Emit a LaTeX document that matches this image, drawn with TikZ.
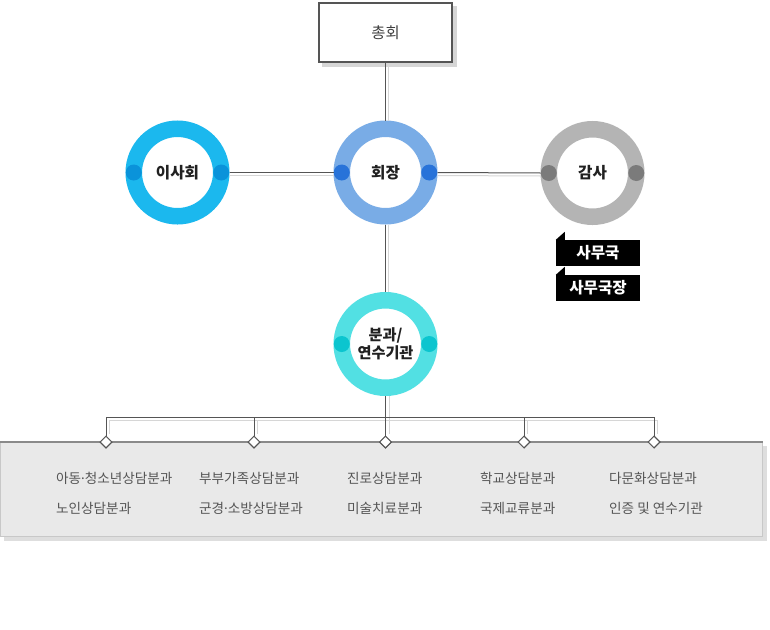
\documentclass[tikz,border=0pt]{standalone}
\usepackage{fontspec}
\setmainfont{Noto Sans CJK KR}
\newfontfamily\latinf{Noto Sans}
\newcommand{\mdot}{{\latinf ·}}
\usetikzlibrary{shapes.geometric}
\definecolor{cA}{HTML}{1BB8EE}
\definecolor{dA}{HTML}{0A93DA}
\definecolor{cB}{HTML}{79ACE6}
\definecolor{dB}{HTML}{2873D9}
\definecolor{cC}{HTML}{B4B4B4}
\definecolor{dC}{HTML}{7B7B7B}
\definecolor{cD}{HTML}{52E0E3}
\definecolor{dD}{HTML}{0BC5CF}
\definecolor{linec}{HTML}{555555}
\definecolor{shadc}{HTML}{D6D6D6}
\definecolor{panelfill}{HTML}{E9E9E9}
\definecolor{panelline}{HTML}{C8C8C8}
\definecolor{paneltop}{HTML}{8A8A8A}
\definecolor{paneltext}{HTML}{555555}
\begin{document}
\begin{tikzpicture}[x=1pt,y=-1pt,
  ring/.style={circle, draw=#1, line width=16.5pt, minimum size=87.5pt, inner sep=0pt,
    fill=white, text=black!87, font=\fontsize{15.6}{19}\selectfont\bfseries},
  conn/.style={draw=linec, line width=1pt},
  shline/.style={draw=shadc, line width=1pt},
  dia/.style={diamond, aspect=1, minimum size=12pt, inner sep=0pt, draw=linec, fill=white, line width=1pt},
  tag/.style={fill=black, text=white, minimum width=84pt, minimum height=26pt, inner sep=0pt,
    font=\fontsize{15.6}{18}\selectfont\bfseries},
  item/.style={anchor=west, inner sep=0pt, text=paneltext, font=\fontsize{13.6}{16}\selectfont},
  topbox/.style={draw=linec, line width=2pt, fill=white, minimum width=133pt, minimum height=59pt,
    inner sep=0pt, text=black!75, font=\fontsize{15.4}{18}\selectfont}]
\useasboundingbox[fill=white] (0,0) rectangle (770,629);

% top box
\fill[shadc] (322,6) rectangle (457,67);
\node[topbox] (zh) at (385.5,32.5) {총회};

% circles
\node[ring=cA] (isa) at (177.5,172.5) {이사회};
\node[ring=cB] (hj) at (385.5,172.5) {회장};
\node[ring=cC] (gs) at (592.5,173) {감사};
\node[ring=cD, align=center, font=\fontsize{15.2}{18.5}\selectfont\bfseries] (bg) at (385.5,344) {분과/\\연수기관};

\foreach \n/\c in {isa/dA, hj/dB, gs/dC, bg/dD}{
  \fill[\c] (\n.center) ++(-43.75,0) circle[radius=8pt];
  \fill[\c] (\n.center) ++(43.75,0) circle[radius=8pt];
}

% black tags
\node[tag] (sm) at (598,253) {사무국};
\fill (sm.north west) -- ++(9,-8) -- ++(0,8) -- cycle;
\node[tag] (smj) at (598,288) {사무국장};
\fill (smj.north west) -- ++(9,-8) -- ++(0,8) -- cycle;

% panel
\fill[shadc!80] (4,446) rectangle (767,541);
\draw[draw=panelline, fill=panelfill] (0.5,442) rectangle (762.5,536.5);
\draw[paneltop, line width=2pt] (0,442) -- (763,442);

% diamonds
\node[dia] (d1) at (106,442) {};
\node[dia] (d2) at (254,442) {};
\node[dia] (d3) at (385.5,442) {};
\node[dia] (d4) at (524,442) {};
\node[dia] (d5) at (654,442) {};
\coordinate (bus) at (385.5,417);

% connector shadows
\draw[shline] ([shift={(3,0)}]zh.south) -- ([shift={(3,0)}]hj.north);
\draw[shline] ([shift={(0,3)}]isa.east) -- ([shift={(0,3)}]hj.west);
\draw[shline] ([shift={(0,3)}]hj.east) -- ([shift={(0,3)}]gs.west);
\draw[shline] ([shift={(3,0)}]hj.south) -- ([shift={(3,0)}]bg.north);
\draw[shline] ([shift={(3.5,0)}]bg.south) -- ([shift={(3.5,-2)}]d3.north);
\draw[shline] ([shift={(3.5,-2)}]d1.north) |- ([shift={(3.5,3.5)}]d5.north |- bus) -- ([shift={(3.5,-2)}]d5.north);
\draw[shline] ([shift={(3.5,-2)}]d2.north) -- ([shift={(3.5,3.5)}]d2.north |- bus);
\draw[shline] ([shift={(3.5,-2)}]d4.north) -- ([shift={(3.5,3.5)}]d4.north |- bus);

% connectors
\draw[conn] (zh.south) -- (hj.north);
\draw[conn] (isa.east) -- (hj.west);
\draw[conn] (hj.east) -- (gs.west);
\draw[conn] (hj.south) -- (bg.north);
\draw[conn] (bg.south) -- (d3.north);
\draw[conn] (d1.north) |- (d5.north |- bus) -- (d5.north);
\draw[conn] (d2.north) -- (d2.north |- bus);
\draw[conn] (d4.north) -- (d4.north |- bus);
\node[dia] (d1b) at (d1) {};
\node[dia] (d2b) at (d2) {};
\node[dia] (d3b) at (d3) {};
\node[dia] (d4b) at (d4) {};
\node[dia] (d5b) at (d5) {};

% panel texts
\node[item] (t11) at (56,478) {아동\mdot 청소년상담분과};
\node[item] (t12) at (56,508) {노인상담분과};
\node[item] (t21) at (199,478) {부부가족상담분과};
\node[item] (t22) at (199,508) {군경\mdot 소방상담분과};
\node[item] (t31) at (347,478) {진로상담분과};
\node[item] (t32) at (347,508) {미술치료분과};
\node[item] (t41) at (480,478) {학교상담분과};
\node[item] (t42) at (480,508) {국제교류분과};
\node[item] (t51) at (609,478) {다문화상담분과};
\node[item] (t52) at (609,508) {인증 및 연수기관};
\end{tikzpicture}
\end{document}
